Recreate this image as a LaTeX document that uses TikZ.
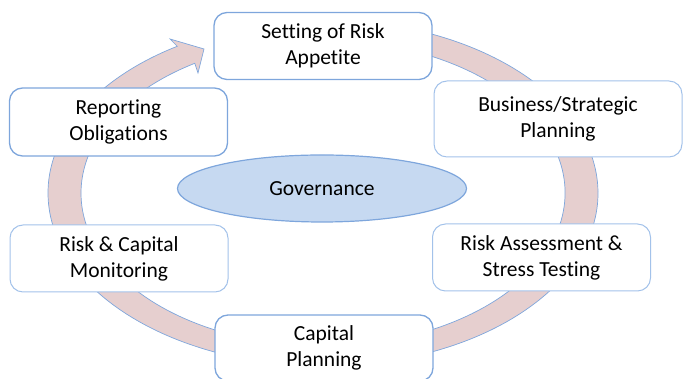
\documentclass[tikz,border=0pt]{standalone}
\usepackage{fontspec}
\setmainfont{Carlito}[Ligatures={NoCommon}]
\usepackage{tikz}
\usetikzlibrary{shapes.geometric}

\definecolor{ringpink}{HTML}{E6CFCF}
\definecolor{lineblue}{HTML}{7EA6DC}
\definecolor{boxblue}{HTML}{A3C2EA}
\definecolor{govblue}{HTML}{C6D9F1}

\begin{document}
\begin{tikzpicture}[x=1pt, y=1pt,
        stage/.style={draw=boxblue, fill=white, line width=1pt, rounded corners=13pt,
            align=center, inner sep=0pt, minimum width=218pt, minimum height=67pt,
            font=\fontsize{21.5}{26}\selectfont},
        gov/.style={draw=lineblue, fill=govblue, ellipse, line width=1.2pt,
            minimum width=289pt, minimum height=67pt, inner sep=0pt,
            font=\fontsize{21.5}{26}\selectfont}]

            \useasboundingbox (0,0) rectangle (683,379);

            % the cycle arrow behind the boxes
            \filldraw[fill=ringpink, draw=lineblue, line width=0.7pt]
                (323,186) ++(95:275 and 173)
                arc[start angle=95, end angle=-238, x radius=275, y radius=173]
                -- (170,340) -- (204,330) -- (198,306) -- (194.8,315.7)
                arc[start angle=-238, end angle=95, x radius=242, y radius=153]
                -- cycle;

            \node[stage, draw=lineblue, line width=1.3pt] (app) at (323,333) {Setting of Risk\\Appetite};
            \node[stage, minimum width=248pt, minimum height=76pt] (bus) at (558,260) {Business/Strategic\\Planning};
            \node[stage, draw=lineblue, line width=1.3pt, minimum height=68pt] (rep) at (118.5,257) {Reporting\\Obligations};
            \node[stage] (mon) at (119,120.5) {Risk \& Capital\\Monitoring};
            \node[stage] (str) at (541.5,121.5) {Risk Assessment \&\\Stress Testing};
            \node[stage, draw=lineblue, line width=1.3pt, minimum height=66pt] (cap) at (324,31) {Capital\\Planning};

            \node[gov] (g) at (322,190.5) {Governance};

        \end{tikzpicture}
\end{document}
